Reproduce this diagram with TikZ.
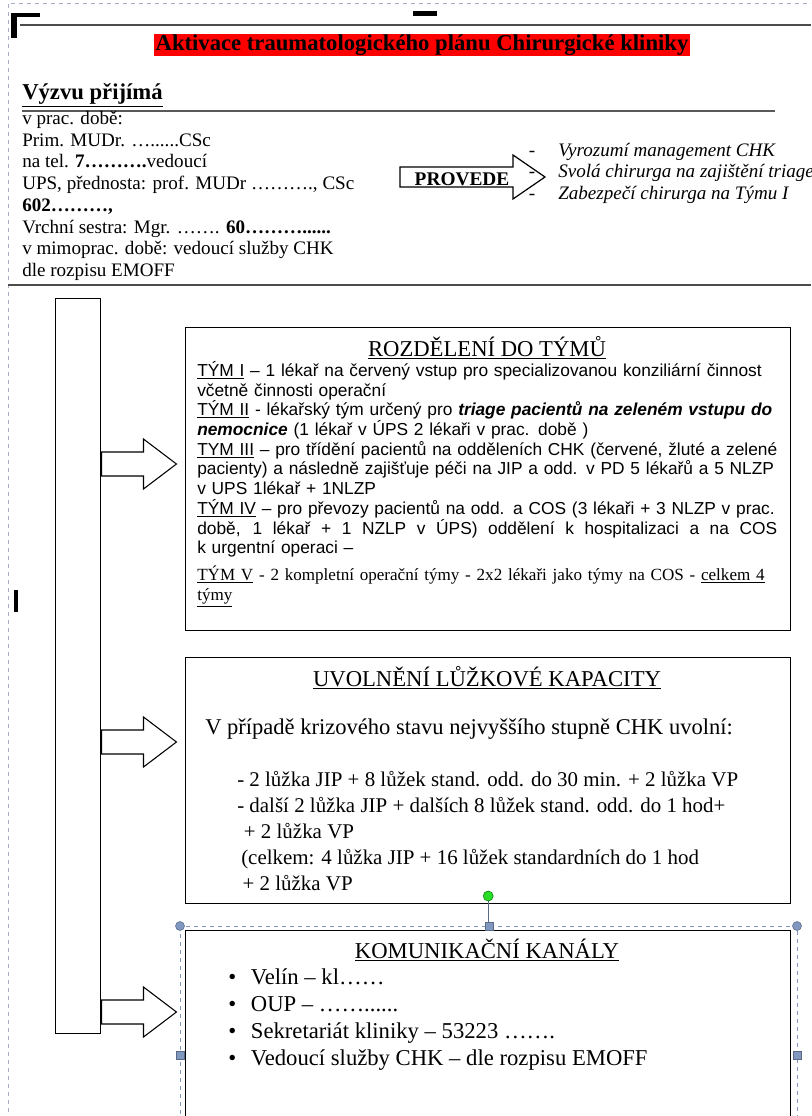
\documentclass[tikz,border=0pt]{standalone}
\usepackage{fontspec}
\setmainfont{Liberation Serif}
\newfontfamily\arialfont{Liberation Sans}
\usetikzlibrary{positioning}

\definecolor{markred}{RGB}{255,0,0}
\definecolor{selblue}{RGB}{128,152,192}
\definecolor{pagegray}{RGB}{165,175,195}
\definecolor{rotgreen}{RGB}{40,220,40}

\newcommand\bul{\makebox[17pt][l]{•}}

\tikzset{
  panel/.style={draw, line width=1.1pt, inner sep=0pt, anchor=north west},
  txt/.style={inner sep=0pt, align=left, anchor=north west},
  handle/.style={draw=selblue!70!black, fill=selblue, line width=0.4pt},
  fatarrow/.pic={\draw[line width=0.8pt, fill=white] (0,-12) -- (42,-12) -- (42,-25) -- (75,0) -- (42,25) -- (42,12) -- (0,12) -- cycle;},
}

\begin{document}
\begin{tikzpicture}[x=0.75pt, y=-0.75pt]
\clip (0,0) rectangle (811,1116);
% page frame and marks
\draw[pagegray, dashed, line width=0.6pt] (8,1120) -- (8,3) -- (815,3);
\draw[line width=1.3pt, black!70] (20,25) -- (811,25);
\fill (11,13) rectangle (40,17);
\fill (11,13) rectangle (17,38);
\fill (413,11) rectangle (437,16);
\fill (14,590) rectangle (18,612);

% header
\node[fill=markred, inner xsep=1pt, inner ysep=0.5pt, font=\bfseries\fontsize{17}{18}\selectfont] (title) at (422,45) {Aktivace traumatologického plánu Chirurgické kliniky};
\node[inner sep=0pt, anchor=base west, font=\bfseries\fontsize{17}{19}\selectfont] (caller) at (22,100) {\underline{Výzvu přijímá}};
\draw[line width=1.6pt, black!65] (22,111) -- (775,111);
\node[txt, font=\fontsize{14.3}{16.3}\selectfont] (contacts) at (22,111) {v prac.  době:\\
Prim. MUDr. …......CSc\\
na tel. \textbf{7……….}vedoucí\\
UPS, přednosta: prof. MUDr ………., CSc\\
\textbf{602………,}\\
Vrchní sestra: Mgr. ……. \textbf{60………......}\\
v mimoprac.  době: vedoucí služby CHK\\
dle rozpisu EMOFF};
\draw[line width=1.2pt, black!70] (8,285) -- (811,285);

% PROVEDE
\draw[line width=0.9pt, fill=white] (400,167) -- (513,167) -- (513,155) -- (545,177) -- (513,199) -- (513,187) -- (400,187) -- cycle;
\node[font=\bfseries\fontsize{14.5}{16}\selectfont, inner sep=0pt] (provede) at (462,179) {PROVEDE};
\node[txt, font=\fontsize{14.3}{16.1}\selectfont, anchor=north] (dashes) at (532,141) {\strut-\\-\\-};
\node[txt, font=\itshape\fontsize{14.3}{16.1}\selectfont] (tasks) at (558,141) {\strut Vyrozumí management CHK\\
Svolá chirurga na zajištění triage\\
Zabezpečí chirurga na Týmu I};

% left bar and boxes
\node[panel, minimum width=33.75pt, minimum height=551.25pt] (bar) at (55,298) {};
\node[panel, minimum width=453.75pt, minimum height=227.25pt] (teams) at (185,327) {};
\node[panel, minimum width=453.75pt, minimum height=184.5pt] (beds) at (185,657) {};
\node[panel, minimum width=453.75pt, minimum height=160pt] (comm) at (185,930) {};

\pic at (bar.east |- 0,464) {fatarrow};
\pic at (bar.east |- 0,742) {fatarrow};
\pic at (bar.east |- 0,1012) {fatarrow};

% teams
\node[font=\fontsize{17}{18}\selectfont, anchor=base] (teamshead) at (487,356) {\underline{ROZDĚLENÍ DO TÝMŮ}};
\node[txt, text width=450pt, font=\arialfont\fontsize{13}{14.8}\selectfont] (teamstext) at (197,361) {\underline{TÝM I} – 1 lékař na červený vstup pro specializovanou konziliární činnost\\
včetně činnosti operační\\
\underline{TÝM II} - lékařský tým určený pro \textbf{\textit{triage pacientů na zeleném vstupu do}}\\
\textbf{\textit{nemocnice}}  (1 lékař v ÚPS 2 lékaři v prac. době )\\
\underline{TYM III} – pro třídění pacientů na odděleních CHK (červené, žluté a zelené\\
pacienty) a následně zajišťuje péči na JIP a odd. v PD 5 lékařů a 5 NLZP\\
v UPS 1lékař + 1NLZP\\
\underline{TÝM IV} – pro převozy pacientů  na odd. a COS (3 lékaři + 3 NLZP v prac.\\
\leavevmode\hbox to 435pt{\spaceskip=0.28em plus 1fil\relax době, 1 lékař + 1 NZLP v ÚPS) oddělení k hospitalizaci a na COS}\\
k urgentní operaci –\\[4pt]
{\rmfamily\fontsize{12.8}{16}\selectfont \underline{TÝM V} - 2 kompletní operační týmy - 2x2 lékaři jako týmy na COS - \underline{celkem 4}\\
\underline{týmy}}};

% beds
\node[font=\fontsize{17}{18}\selectfont, anchor=base] (bedshead) at (487,686) {\underline{UVOLNĚNÍ LŮŽKOVÉ KAPACITY}};
\node[txt, font=\fontsize{16.9}{19.5}\selectfont] (bedsintro) at (205,719) {V případě krizového stavu nejvyššího  stupně CHK uvolní:};
\node[txt, font=\fontsize{15.7}{19.5}\selectfont] (bedslist) at (237,771) {- 2 lůžka JIP + 8 lůžek stand. odd. do 30 min. + 2 lůžka VP\\
- další 2 lůžka JIP + dalších 8 lůžek stand. odd. do 1 hod+\\
\hspace{5pt}+ 2  lůžka VP\\
\hspace{3pt}(celkem: 4 lůžka JIP + 16 lůžek standardních do 1 hod\\
\hspace{4pt}+ 2  lůžka VP};

% communication
\node[font=\fontsize{17}{18}\selectfont, anchor=base] (commhead) at (487,958) {\underline{KOMUNIKAČNÍ KANÁLY}};
\node[txt, font=\fontsize{17}{20.3}\selectfont] (commlist) at (228,968) {\bul Velín – kl……\\
\bul OUP – ……......\\
\bul Sekretariát kliniky – 53223 …….\\
\bul Vedoucí služby CHK – dle rozpisu EMOFF};

% selection handles
\draw[selblue, dashed, line width=0.6pt] (180,926) rectangle (797,1130);
\draw[selblue!70!black, line width=0.8pt] (comm.north |- 0,901) -- (comm.north |- 0,926);
\filldraw[fill=rotgreen, draw=green!50!black, line width=0.4pt] (comm.north |- 0,896) circle (5);
\filldraw[handle] (180,926) circle (4.5);
\filldraw[handle] (797,926) circle (4.5);
\filldraw[handle] (485,922) rectangle (493,930);
\filldraw[handle] (176,1051) rectangle (184,1059);
\filldraw[handle] (793,1051) rectangle (801,1059);
\end{tikzpicture}
\end{document}
